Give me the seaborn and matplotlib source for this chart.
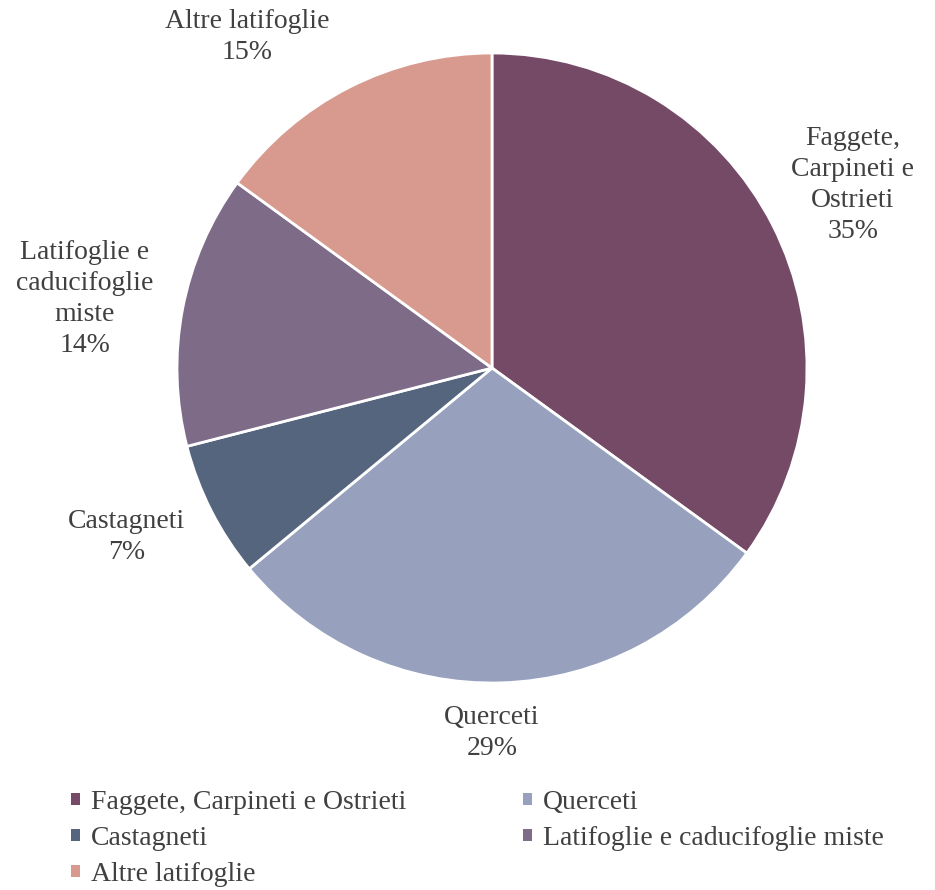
import numpy as np
import matplotlib
matplotlib.use("Agg")
import matplotlib.pyplot as plt
import seaborn as sns
from matplotlib.patches import Patch

sns.set_theme(style="white")
plt.rcParams['font.family'] = ['Liberation Serif', 'DejaVu Serif']

categories = ["Faggete, Carpineti e Ostrieti", "Querceti", "Castagneti",
              "Latifoglie e caducifoglie miste", "Altre latifoglie"]
pie_labels = ["Faggete,\nCarpineti e\nOstrieti", "Querceti", "Castagneti",
              "Latifoglie e\ncaducifoglie\nmiste", "Altre latifoglie"]
values = [35, 29, 7, 14, 15]
colors = ["#744A67", "#97A1BE", "#56657E", "#7D6B88", "#D89A8F"]
# label anchor positions in units of the pie radius (as placed in the reference)
label_pos = [(1.146, 0.581), (0.0, -1.159), (-1.159, -0.537), (-1.292, 0.219), (-0.778, 1.051)]

W, H = 935, 890
fig = plt.figure(figsize=(W / 100, H / 100), dpi=100)
cx, cy, r = 492, 368, 315
L = 1.45
ax = fig.add_axes([(cx - r * L) / W, (H - cy - r * L) / H, 2 * r * L / W, 2 * r * L / H])

text_color = "#404040"
wedges, _ = ax.pie(values, colors=colors, startangle=90, counterclock=False,
                   radius=1, wedgeprops=dict(edgecolor="white", linewidth=2))
ax.set_xlim(-L, L)
ax.set_ylim(-L, L)
ax.set_aspect('equal')
ax.axis('off')

total = sum(values)
for lab, v, (x, y) in zip(pie_labels, values, label_pos):
    ax.text(x, y, f"{lab}\n{round(100 * v / total)}%", ha="center", va="center",
            fontsize=20, color=text_color, linespacing=1.3, clip_on=False)

# legend filled row by row (two columns)
order = [0, 2, 4, 1, 3]
handles = [Patch(facecolor=colors[i], edgecolor='none') for i in order]
labels = [categories[i] for i in order]
leg = fig.legend(handles, labels, ncol=2, loc="upper left",
                 bbox_to_anchor=(57 / W, 1 - 776 / H), frameon=False,
                 fontsize=20, handlelength=0.32, handleheight=0.32,
                 handletextpad=0.4, columnspacing=4.2, labelspacing=0.4,
                 labelcolor=text_color, borderpad=0)

fig.savefig("out.png", dpi=100, facecolor="white")
